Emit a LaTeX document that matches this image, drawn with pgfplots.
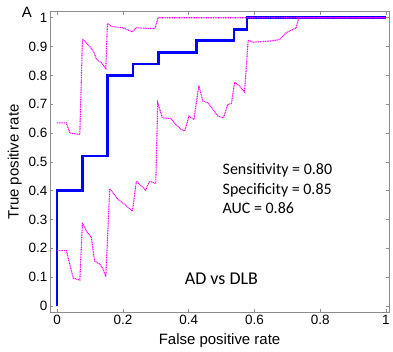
\documentclass[border=0pt]{standalone}
\usepackage{fontspec}
\setmainfont{Liberation Sans}
\newfontfamily\calibri{Carlito}
\usepackage{pgfplots}
\pgfplotsset{compat=1.18}
\definecolor{ciMag}{RGB}{255,0,255}
\begin{document}
\begin{tikzpicture}
\begin{axis}[
  scale only axis, width=340pt, height=301pt,
  xmin=-0.022, xmax=1.01, ymin=-0.021, ymax=1.021,
  xtick={0,0.2,0.4,0.6,0.8,1},
  ytick={0,0.1,0.2,0.3,0.4,0.5,0.6,0.7,0.8,0.9,1},
  tick align=inside, major tick length=3.5pt,
  axis line style={black!45},
  tick style={black!45, line width=0.6pt},
  ticklabel style={font=\fontsize{13.5}{15}\selectfont},
  yticklabel style={xshift=1pt},
  /pgf/number format/assume math mode=true,
  xlabel={False positive rate}, ylabel={True positive rate},
  label style={font=\fontsize{15}{18}\selectfont},
  xlabel style={yshift=-2pt},
  clip=false,
]
\addplot[blue, line width=2.7pt, line join=miter] coordinates {
 (0,0) (0,0.40) (0.077,0.40) (0.077,0.52) (0.154,0.52) (0.154,0.80)
 (0.231,0.80) (0.231,0.84) (0.308,0.84) (0.308,0.88) (0.423,0.88)
 (0.423,0.92) (0.538,0.92) (0.538,0.96) (0.577,0.96) (0.577,1.0) (1,1)
};
\addplot[ciMag, line width=1.1pt, dash pattern=on 1pt off 0.7pt] coordinates {
 (0,0.635) (0.028,0.635) (0.039,0.60) (0.069,0.595) (0.077,0.926)
 (0.099,0.901) (0.112,0.880) (0.12,0.855) (0.135,0.843) (0.148,0.824)
 (0.153,0.98) (0.165,0.97) (0.2,0.965) (0.228,0.951) (0.241,0.965)
 (0.297,0.962) (0.307,1.0) (1,1)
};
\addplot[ciMag, line width=1.1pt, dash pattern=on 1pt off 0.7pt] coordinates {
 (0,0.192) (0.028,0.192) (0.049,0.097) (0.069,0.09) (0.077,0.289)
 (0.089,0.26) (0.104,0.237) (0.114,0.156) (0.13,0.145) (0.14,0.127)
 (0.148,0.102) (0.16,0.407) (0.185,0.37) (0.206,0.352) (0.229,0.329)
 (0.241,0.433) (0.269,0.402) (0.281,0.433) (0.3,0.425) (0.306,0.705)
 (0.32,0.653) (0.347,0.65) (0.36,0.63) (0.378,0.612) (0.388,0.607)
 (0.401,0.659) (0.416,0.647) (0.431,0.765) (0.443,0.711) (0.459,0.705)
 (0.474,0.682) (0.489,0.659) (0.506,0.653) (0.519,0.699) (0.53,0.702)
 (0.54,0.776) (0.553,0.765) (0.57,0.742) (0.581,0.922) (0.595,0.915)
 (0.646,0.919) (0.676,0.924) (0.697,0.948) (0.727,0.965) (0.735,1.0) (1,1)
};
\node[anchor=base west, inner sep=0, font=\calibri\fontsize{16}{19}\selectfont] at (axis cs:0.503,0.455) {Sensitivity = 0.80};
\node[anchor=base west, inner sep=0, font=\calibri\fontsize{16}{19}\selectfont] at (axis cs:0.503,0.387) {Specificity = 0.85};
\node[anchor=base west, inner sep=0, font=\calibri\fontsize{16}{19}\selectfont] at (axis cs:0.503,0.320) {AUC = 0.86};
\node[anchor=base west, inner sep=0, font=\calibri\fontsize{18}{21}\selectfont] at (axis cs:0.388,0.075) {AD vs DLB};
\end{axis}
\node[anchor=base west, inner sep=0, font=\fontsize{15}{18}\selectfont] at ([xshift=-28.3pt,yshift=-6.3pt]current axis.north west) {A};
\path ([xshift=-50pt,yshift=-36.3pt]current axis.south west) rectangle ([xshift=3pt,yshift=11.7pt]current axis.north east);
\end{tikzpicture}
\end{document}
